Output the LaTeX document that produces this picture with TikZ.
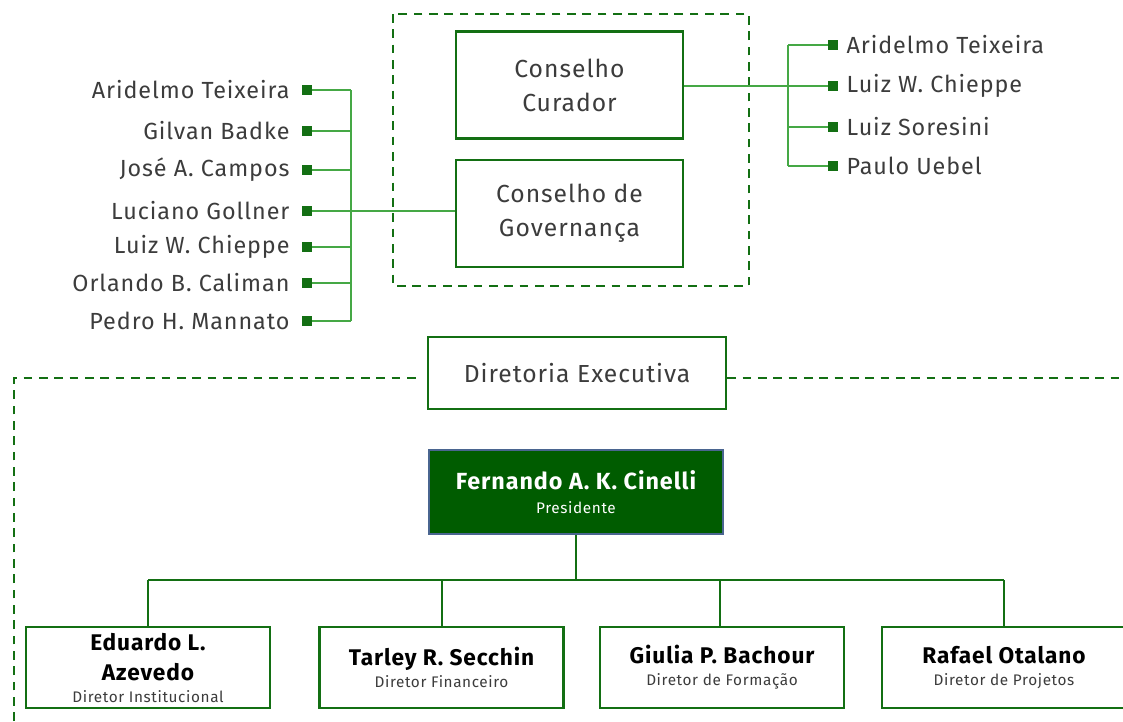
\documentclass[tikz,border=0pt]{standalone}
\usepackage{fontspec}
\setmainfont{Fira Sans}[LetterSpace=4]
\usepackage{tikz}
\usetikzlibrary{positioning}
\definecolor{boxgreen}{HTML}{136F13}
\definecolor{linegreen}{HTML}{45A845}
\definecolor{presfill}{HTML}{005C00}
\definecolor{presedge}{HTML}{4A6590}
\definecolor{txtgray}{HTML}{3C3C3C}
\tikzset{
  council/.style={draw=boxgreen, line width=1.8pt, minimum width=170pt, minimum height=80pt,
    align=center, text=txtgray, font=\fontsize{18.5}{25.5}\selectfont},
  person/.style={text=txtgray, font=\fontsize{17.5}{19}\selectfont, inner sep=0pt},
  bullet/.style={fill=boxgreen, minimum size=7.5pt, inner sep=0pt},
  director/.style={draw=boxgreen, line width=1.8pt, minimum width=183pt, minimum height=61pt,
    align=center, text=black, inner sep=0pt, font=\fontsize{17}{21}\selectfont},
  link/.style={linegreen, line width=1.4pt},
  frame/.style={boxgreen, line width=1.5pt, dash pattern=on 6.5pt off 5pt}
}
\newcommand{\dname}[1]{\bfseries #1}
\newcommand{\drole}[1]{\fontsize{11.5}{15}\selectfont\color{txtgray} #1}
\begin{document}
\begin{tikzpicture}[x=0.75pt, y=-0.75pt]
        \clip (0,0) rectangle (1123,721);
        \fill[white] (0,0) rectangle (1123,721);
        % conselhos
        \draw[frame] (393,14) rectangle (749,286);
        \node[council] (cur) at (569.5,85) {Conselho\\Curador};
        \node[council] (gov) at (569.5,213.5) {Conselho de\\Governança};
        % membros do conselho de governanca
        \node[bullet] (l1) at (307,90) {};
        \node[bullet] (l2) at (307,131) {};
        \node[bullet] (l3) at (307,170) {};
        \node[bullet] (l4) at (307,211) {};
        \node[bullet] (l5) at (307,247) {};
        \node[bullet] (l6) at (307,283) {};
        \node[bullet] (l7) at (307,321) {};
        \node[person, left=9pt of l1] (n1) {Aridelmo Teixeira};
        \node[person, left=9pt of l2] (n2) {Gilvan Badke};
        \node[person, left=9pt of l3] (n3) {José A. Campos};
        \node[person, left=9pt of l4] (n4) {Luciano Gollner};
        \node[person, left=9pt of l5] (n5) {Luiz W. Chieppe};
        \node[person, left=9pt of l6] (n6) {Orlando B. Caliman};
        \node[person, left=9pt of l7] (n7) {Pedro H. Mannato};
        \coordinate (lbus) at (351,0);
        \draw[link] (l1.center -| lbus) -- (l7.center -| lbus);
        \draw[link] (l1.east) -- (l1 -| lbus);
        \draw[link] (l2.east) -- (l2 -| lbus);
        \draw[link] (l3.east) -- (l3 -| lbus);
        \draw[link] (l4.east) -- (gov.west |- l4);
        \draw[link] (l5.east) -- (l5 -| lbus);
        \draw[link] (l6.east) -- (l6 -| lbus);
        \draw[link] (l7.east) -- (l7 -| lbus);
        % membros do conselho curador
        \node[bullet] (r1) at (833,45) {};
        \node[bullet] (r2) at (833,86) {};
        \node[bullet] (r3) at (833,127) {};
        \node[bullet] (r4) at (833,166) {};
        \node[person, right=6pt of r1] (m1) {Aridelmo Teixeira};
        \node[person, right=6pt of r2] (m2) {Luiz W. Chieppe};
        \node[person, right=6pt of r3] (m3) {Luiz Soresini};
        \node[person, right=6pt of r4] (m4) {Paulo Uebel};
        \coordinate (rbus) at (788,0);
        \draw[link] (r1.center -| rbus) -- (r4.center -| rbus);
        \draw[link] (cur.east |- r2) -- (r2.west);
        \draw[link] (r1 -| rbus) -- (r1.west);
        \draw[link] (r3 -| rbus) -- (r3.west);
        \draw[link] (r4 -| rbus) -- (r4.west);
        % diretoria executiva
        \node[council, minimum width=223.5pt, minimum height=54pt] (dir) at (577,373) {Diretoria Executiva};
        \draw[frame] (14,721) -- (14,378) -- (420,378);
        \draw[frame] (dir.east |- 0,378) -- (1123,378);
        \node[draw=presedge, fill=presfill, line width=1.2pt, minimum width=220.5pt, minimum height=63pt,
          align=center, text=white, font=\fontsize{17.5}{20}\selectfont] (pres) at (576,492)
          {\bfseries Fernando A. K. Cinelli\\[-2pt]\fontsize{11.5}{16}\selectfont Presidente};
        \node[director] (d1) at (148,667.5) {\dname{Eduardo L.}\\[1.5pt]\dname{Azevedo}\\[-4.5pt]\drole{Diretor Institucional}};
        \node[director] (d2) at (441.5,667.5) {\dname{Tarley R. Secchin}\\[-4.5pt]\drole{Diretor Financeiro}};
        \node[director] (d3) at (722,667.5) {\dname{Giulia P. Bachour}\\[-4.5pt]\drole{Diretor de Formação}};
        \node[director] (d4) at (1004,667.5) {\dname{Rafael Otalano}\\[-4.5pt]\drole{Diretor de Projetos}};
        \coordinate (bus) at (0,580);
        \draw[boxgreen, line width=1.5pt] (pres.south) -- (pres.south |- bus);
        \draw[boxgreen, line width=1.5pt] (d1.north |- bus) -- (d4.north |- bus);
        \draw[boxgreen, line width=1.5pt] (d1.north |- bus) -- (d1.north);
        \draw[boxgreen, line width=1.5pt] (d2.north |- bus) -- (d2.north);
        \draw[boxgreen, line width=1.5pt] (d3.north -| 720,0) -- (720,580);
        \draw[boxgreen, line width=1.5pt] (d4.north |- bus) -- (d4.north);
      \end{tikzpicture}
\end{document}
